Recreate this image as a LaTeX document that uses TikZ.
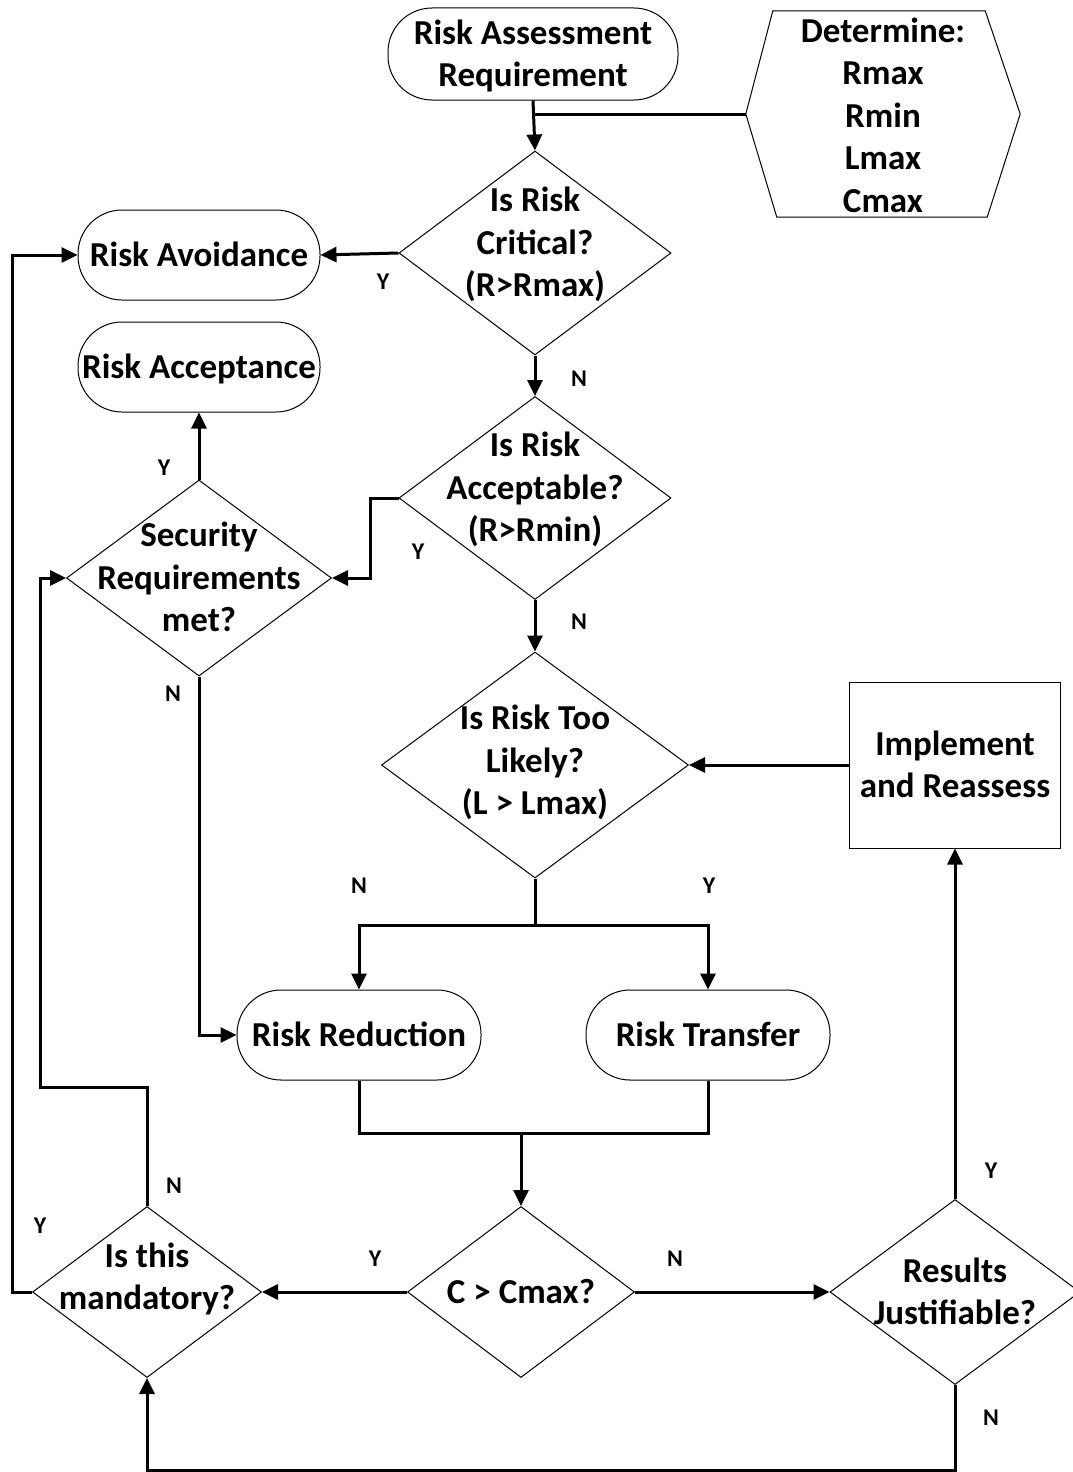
\documentclass[tikz,border=0pt]{standalone}
\usepackage{fontspec}
\setmainfont{Carlito}
\usetikzlibrary{shapes.geometric,arrows.meta}
\newcommand{\tx}[2][-9pt]{\raisebox{#1}{\makebox[0pt]{\begin{tabular}{@{}c@{}}#2\end{tabular}}}}
\tikzset{
  base/.style={font=\fontsize{35}{42.5}\selectfont\bfseries, inner sep=0pt, text height=0pt, text depth=0pt},
  term/.style={base, draw, line width=1pt, rectangle, rounded corners=44pt},
  dia/.style={base, draw, line width=1pt, diamond},
  box/.style={base, draw, line width=1pt, rectangle},
  conn/.style={line width=3pt, -{Triangle[length=16pt,width=15pt]}},
  line/.style={line width=3pt},
  lab/.style={font=\fontsize{24}{28}\selectfont\bfseries, inner sep=0pt}
}
\begin{document}
\begin{tikzpicture}[x=1pt,y=-1pt]
\useasboundingbox (0,0) rectangle (1072,1472);
% nodes
\node[term, minimum width=290, minimum height=92] (rar) at (533,54) {\tx{Risk Assessment\\Requirement}};
\node[base, rectangle, minimum width=274, minimum height=206] (det) at (883,114) {\tx[-11pt]{Determine:\\Rmax\\Rmin\\Lmax\\Cmax}};
\draw[line width=1pt] (det.west) -- ([xshift=27]det.north west) -- ([xshift=-35]det.north east) -- (det.east) -- ([xshift=-33]det.south east) -- ([xshift=31]det.south west) -- cycle;
\node[dia, minimum width=272, minimum height=204] (crit) at (535,253) {\tx[1pt]{Is Risk\\Critical?\\(R>Rmax)}};
\node[term, minimum width=242, minimum height=90] (avoid) at (199,255) {\tx{Risk Avoidance}};
\node[term, minimum width=242, minimum height=90] (accept) at (199,367) {\tx{Risk Acceptance}};
\node[dia, minimum width=272, minimum height=203] (accd) at (535,498) {\tx[1pt]{Is Risk\\Acceptable?\\(R>Rmin)}};
\node[dia, minimum width=265, minimum height=196] (sec) at (199,578) {\tx{Security\\Requirements\\met?}};
\node[dia, minimum width=307, minimum height=226] (likely) at (535,765) {\tx[-5pt]{Is Risk Too\\Likely?\\(L > Lmax)}};
\node[box, minimum width=211, minimum height=166] (impl) at (955,765) {\tx{Implement\\and Reassess}};
\node[term, minimum width=244, minimum height=90] (red) at (359,1035) {\tx{Risk Reduction}};
\node[term, minimum width=244, minimum height=90] (trans) at (708,1035) {\tx{Risk Transfer}};
\node[dia, minimum width=227, minimum height=171] (cmax) at (521,1292) {\tx{C > Cmax?}};
\node[dia, minimum width=229, minimum height=171] (mand) at (147,1292) {\tx[6pt]{Is this\\mandatory?}};
\node[dia, minimum width=250, minimum height=185] (res) at (955,1292) {\tx{Results\\Justifiable?}};
% coordinates
\coordinate (split) at (535,925);
\coordinate (join) at (521,1133);
\coordinate (nl) at (40,1087);
\coordinate (yl) at (12,1292);
\coordinate (bl) at (955,1470);
% connectors
\draw[line] (det.west) -- (det.west -| rar.south);
\draw[conn] (rar.south) -- (crit.north);
\draw[conn] (crit.west) -- (avoid.east);
\draw[conn] (crit.south) -- (accd.north);
\draw[conn] (accd.west) -- ++(-28,0) |- (sec.east);
\draw[conn] (sec.north) -- (accept.south);
\draw[conn] (accd.south) -- (likely.north);
\draw[conn] (impl.west) -- (likely.east);
\draw[line] (likely.south) -- (split);
\draw[conn] (split) -| (red.north);
\draw[conn] (split) -| (trans.north);
\draw[conn] (sec.south) |- (red.west);
\draw[line] (red.south) |- (join) -| (trans.south);
\draw[conn] (join) -- (cmax.north);
\draw[conn] (cmax.west) -- (mand.east);
\draw[conn] (cmax.east) -- (res.west);
\draw[conn] (res.north) -- (impl.south);
\draw[conn] (res.south) -- (bl) -| (mand.south);
\draw[conn] (mand.north) |- (nl) |- (sec.west);
\draw[conn] (mand.west) -- (yl) |- (avoid.west);
% labels
\node[lab] (l1) at (383,282) {Y};
\node[lab] (l2) at (579,379) {N};
\node[lab] (l3) at (418,552) {Y};
\node[lab] (l4) at (164,468) {Y};
\node[lab] (l5) at (579,622) {N};
\node[lab] (l6) at (173,694) {N};
\node[lab] (l7) at (359,886) {N};
\node[lab] (l8) at (709,886) {Y};
\node[lab] (l9) at (174,1186) {N};
\node[lab] (l10) at (40,1226) {Y};
\node[lab] (l11) at (375,1259) {Y};
\node[lab] (l12) at (675,1259) {N};
\node[lab] (l13) at (991,1171) {Y};
\node[lab] (l14) at (991,1418) {N};
\end{tikzpicture}
\end{document}
